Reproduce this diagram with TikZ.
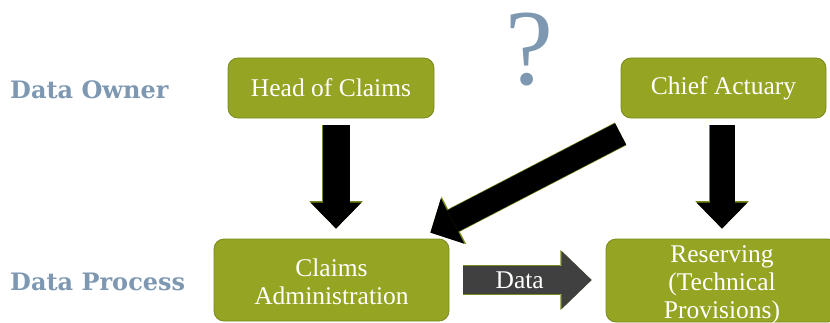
\documentclass[tikz,border=0pt]{standalone}
\usepackage{fontspec}
\setmainfont{Liberation Serif}
\newfontfamily\lblfont{DejaVu Serif}
\usetikzlibrary{arrows.meta,calc}
\definecolor{olivebox}{HTML}{95A423}
\definecolor{oliveedge}{HTML}{7A8A1E}
\definecolor{slate}{HTML}{7E98B2}
\definecolor{darkarrow}{HTML}{404040}
\begin{document}
\begin{tikzpicture}[x=1pt,y=1pt,
  box/.style={draw=oliveedge, line width=0.8pt, fill=olivebox, rounded corners=10pt,
    text=white, align=center, inner sep=0pt, font=\fontsize{25.5}{28}\selectfont},
  boxtext/.style={text=white, align=center, inner sep=0pt, font=\fontsize{25.5}{28}\selectfont},
  rowlabel/.style={anchor=base west, inner sep=0pt, text=slate,
    font=\lblfont\bfseries\fontsize{24}{28}\selectfont},
  vertarrow/.style={line width=27pt, black, -{Triangle[length=26pt,width=51pt,line width=0pt]},
    preaction={draw=oliveedge, line width=28.4pt, -{Triangle[length=27.5pt,width=53.5pt,line width=0pt]}}},
  vertarrowb/.style={line width=25pt, black, -{Triangle[length=26pt,width=51pt,line width=0pt]},
    preaction={draw=oliveedge, line width=26.4pt, -{Triangle[length=27.5pt,width=53.5pt,line width=0pt]}}},
  diagarrow/.style={line width=24pt, black, -{Triangle[length=25pt,width=51pt,line width=0pt]},
    preaction={draw=oliveedge, line width=25.4pt, -{Triangle[length=26.5pt,width=53.5pt,line width=0pt]}}},
  dataarrow/.style={line width=28pt, darkarrow, -{Triangle[length=30pt,width=58pt,line width=0pt]},
    preaction={draw=oliveedge, line width=29.2pt, -{Triangle[length=31.3pt,width=60.3pt,line width=0pt]}}},
]
\useasboundingbox (0,0) rectangle (830,322);

\node[rowlabel] (owner) at (10,224) {Data Owner};
\node[rowlabel] (process) at (10,32) {Data Process};

\node[anchor=base, text=slate, inner sep=0pt, font=\fontsize{108}{110}\selectfont] (qm) at (529,237) {?};

\node[box, minimum width=206pt, minimum height=60pt] (hoc) at (331,234) {Head of Claims};
\node[box, minimum width=205pt, minimum height=60pt] (ca) at (723.5,234) {Chief Actuary};
\node[box, minimum width=235pt, minimum height=82pt] (cad) at (331.5,42) {};
\node[boxtext] (cadtext) at ([yshift=-2pt]cad.center) {Claims\\Administration};
\node[box, minimum width=232pt, minimum height=83pt] (res) at (722,41.5) {};
\node[boxtext] (restext) at ([yshift=-4pt]res.center) {Reserving\\(Technical\\Provisions)};

\draw[vertarrow, shorten <=7pt, shorten >=10pt] ([xshift=5pt]hoc.south) -- ([xshift=5pt]hoc.south |- cad.north);
\draw[vertarrowb, shorten <=7pt, shorten >=10pt] ([xshift=-1.5pt]ca.south) -- ([xshift=-1.5pt]ca.south |- res.north);
\draw[diagarrow] ($(ca.south west)+(0,-15.5)$) -- ($(cad.north east)+(-19,6)$);
\draw[dataarrow, shorten <=14pt, shorten >=14pt] (cad.east) -- node[pos=0.45, text=white, font=\fontsize{25.5}{28}\selectfont] (dlabel) {Data} (cad.east -| res.west);
\end{tikzpicture}
\end{document}
